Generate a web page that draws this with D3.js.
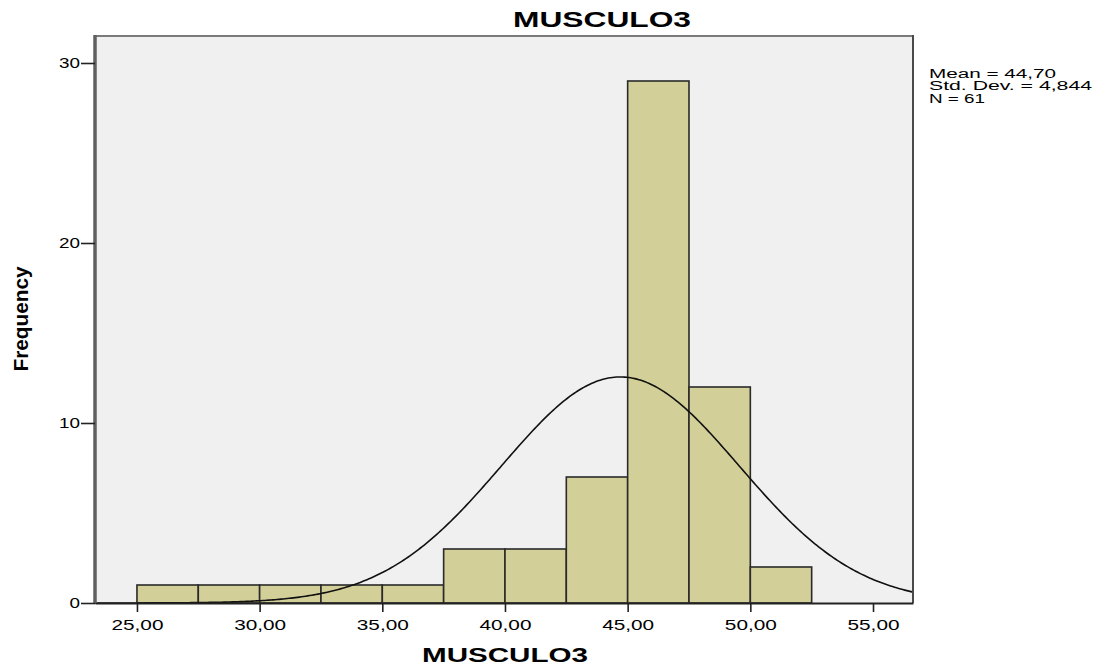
<!DOCTYPE html>
<html>
<head>
<meta charset="utf-8">
<script src="https://cdn.jsdelivr.net/npm/d3@7"></script>
<style>
  html, body { margin: 0; padding: 0; background: #ffffff; }
  svg { display: block; }
  text { font-family: Arial, "Liberation Sans", sans-serif; fill: #000; }
</style>
</head>
<body>
<svg id="chart" width="1098" height="669"></svg>
<script>
// Histogram of MUSCULO3: bin edges (width 2.5) and frequency per bin
const binStarts = [25, 27.5, 30, 32.5, 35, 37.5, 40, 42.5, 45, 47.5, 50];
const binWidth = 2.5;
const counts = [1, 1, 1, 1, 1, 3, 3, 7, 29, 12, 2];

// Summary statistics shown in the side panel
const statMean = 44.70;
const statSD = 4.844;
const statN = 61;
const statLines = ["Mean = 44,70", "Std. Dev. = 4,844", "N = 61"];

// Axis tick values
const xTicks = [25, 30, 35, 40, 45, 50, 55];
const yTicks = [0, 10, 20, 30];

const svg = d3.select("#chart");
const plot = { left: 95, right: 913, top: 36, bottom: 603 };

const x = d3.scaleLinear().domain([23.29, 56.63]).range([plot.left, plot.right]);
const y = d3.scaleLinear().domain([0, 31.5]).range([plot.bottom, plot.top]);

// Plot background
svg.append("rect")
  .attr("x", plot.left).attr("y", plot.top)
  .attr("width", plot.right - plot.left).attr("height", plot.bottom - plot.top)
  .attr("fill", "#f0f0f0");

// Bars
const bins = binStarts.map((s, i) => ({ x0: s, x1: s + binWidth, n: counts[i] }));
svg.append("g").selectAll("rect").data(bins).join("rect")
  .attr("x", d => x(d.x0))
  .attr("y", d => y(d.n))
  .attr("width", d => x(d.x1) - x(d.x0))
  .attr("height", d => y(0) - y(d.n))
  .attr("fill", "#d3cf98")
  .attr("stroke", "#2a2a2a")
  .attr("stroke-width", 1.6);

// Fitted normal curve scaled to counts: N * binWidth * pdf
const [dx0, dx1] = x.domain();
const curvePts = d3.range(0, 401).map(i => {
  const v = dx0 + (dx1 - dx0) * i / 400;
  const z = (v - statMean) / statSD;
  const f = statN * binWidth * Math.exp(-0.5 * z * z) / (statSD * Math.sqrt(2 * Math.PI));
  return [v, f];
});
svg.append("path")
  .datum(curvePts)
  .attr("fill", "none")
  .attr("stroke", "#111")
  .attr("stroke-width", 1.6)
  .attr("d", d3.line().x(d => x(d[0])).y(d => y(d[1])));

// Frame
svg.append("line").attr("x1", plot.left).attr("x2", plot.right).attr("y1", plot.top).attr("y2", plot.top)
  .attr("stroke", "#7a7a7a").attr("stroke-width", 2);
svg.append("line").attr("x1", plot.right).attr("x2", plot.right).attr("y1", plot.top - 1).attr("y2", plot.bottom)
  .attr("stroke", "#4a4a4a").attr("stroke-width", 2);

// X axis
const fmt = d => d.toFixed(2).replace(".", ",");
const gx = svg.append("g")
  .attr("transform", `translate(0,${plot.bottom})`)
  .call(d3.axisBottom(x).tickValues(xTicks).tickFormat(fmt).tickSize(9).tickSizeOuter(0));
gx.select(".domain").attr("stroke", "#222").attr("stroke-width", 2);
gx.selectAll(".tick line").attr("stroke", "#222").attr("stroke-width", 1.6);
gx.selectAll(".tick text")
  .attr("y", 16)
  .attr("font-size", 15.5)
  .attr("font-family", "Arial, 'Liberation Sans', sans-serif")
  .attr("fill", "#222")
  .attr("textLength", 52)
  .attr("lengthAdjust", "spacingAndGlyphs");

// Y axis
const gy = svg.append("g")
  .attr("transform", `translate(${plot.left},0)`)
  .call(d3.axisLeft(y).tickValues(yTicks).tickSize(14).tickSizeOuter(0));
gy.select(".domain").attr("stroke", "#606060").attr("stroke-width", 3.5)
  .attr("d", `M0,${plot.top - 1}V${plot.bottom}`);
gy.selectAll(".tick line").attr("stroke", "#222").attr("stroke-width", 1.6);
gy.selectAll(".tick text")
  .attr("x", -15)
  .attr("font-size", 15.5)
  .attr("font-family", "Arial, 'Liberation Sans', sans-serif")
  .attr("fill", "#222")
  .attr("textLength", d => String(d).length * 10.5)
  .attr("lengthAdjust", "spacingAndGlyphs");

// Title
svg.append("text")
  .attr("x", 602).attr("y", 27)
  .attr("text-anchor", "middle")
  .attr("font-size", 22).attr("font-weight", "bold")
  .attr("textLength", 178).attr("lengthAdjust", "spacingAndGlyphs")
  .text("MUSCULO3");

// X axis title
svg.append("text")
  .attr("x", 505).attr("y", 662)
  .attr("text-anchor", "middle")
  .attr("font-size", 20).attr("font-weight", "bold")
  .attr("textLength", 166).attr("lengthAdjust", "spacingAndGlyphs")
  .text("MUSCULO3");

// Y axis title
svg.append("text")
  .attr("transform", "translate(28,319) rotate(-90)")
  .attr("text-anchor", "middle")
  .attr("font-size", 21).attr("font-weight", "bold")
  .attr("textLength", 105).attr("lengthAdjust", "spacingAndGlyphs")
  .text("Frequency");

// Statistics panel
const statWidths = [127, 163, 56];
svg.append("g").selectAll("text").data(statLines).join("text")
  .attr("x", 929)
  .attr("y", (d, i) => 78 + i * 12.3)
  .attr("font-size", 12)
  .attr("fill", "#111")
  .attr("textLength", (d, i) => statWidths[i])
  .attr("lengthAdjust", "spacingAndGlyphs")
  .text(d => d);
</script>
</body>
</html>
